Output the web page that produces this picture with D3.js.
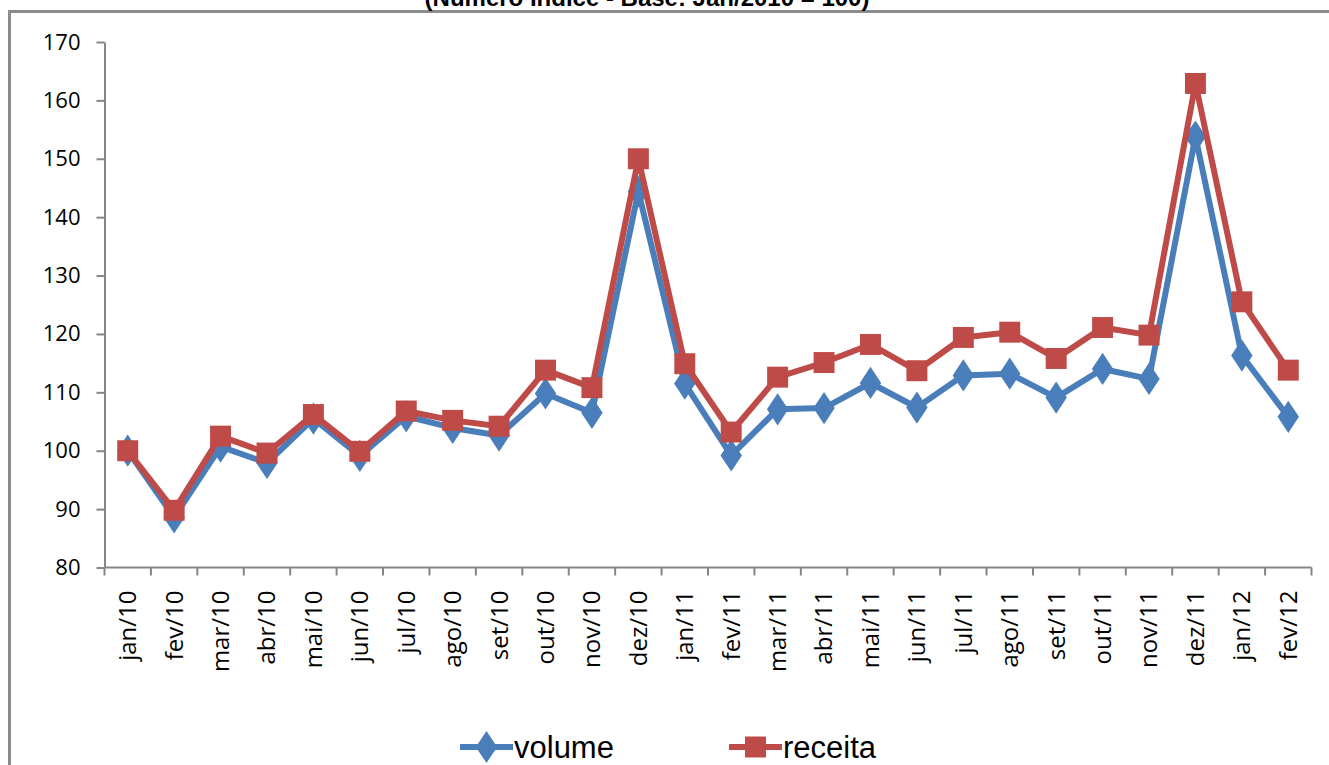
<!DOCTYPE html>
<html>
<head>
<meta charset="utf-8">
<script src="https://cdn.jsdelivr.net/npm/d3@7"></script>
<style>
  html, body { margin: 0; padding: 0; background: #fff; overflow: hidden; }
  svg { display: block; }
</style>
</head>
<body>
<div id="chart"></div>
<script>
const months = ["jan/10", "fev/10", "mar/10", "abr/10", "mai/10", "jun/10", "jul/10", "ago/10", "set/10", "out/10", "nov/10", "dez/10",
  "jan/11", "fev/11", "mar/11", "abr/11", "mai/11", "jun/11", "jul/11", "ago/11", "set/11", "out/11", "nov/11", "dez/11",
  "jan/12", "fev/12"]
const volume = [100, 88.6, 100.7, 97.9, 105.5, 99.1, 105.9, 103.9, 102.6, 109.8, 106.5, 144.4,
  111.5, 99.2, 107.1, 107.3, 111.6, 107.4, 112.9, 113.2, 109.1, 114.0, 112.3, 153.8, 116.3, 105.8]
const receita = [100, 89.8, 102.5, 99.6, 106.2, 99.9, 106.8, 105.2, 104.2, 113.8, 110.8, 150.0,
  114.9, 103.2, 112.6, 115.1, 118.2, 113.7, 119.4, 120.3, 115.8, 121.1, 119.8, 162.9, 125.5, 113.8]
const yTicks = [80, 90, 100, 110, 120, 130, 140, 150, 160, 170]
const title = "(Número Índice - Base: Jan/2010 = 100)"

const W = 1329, H = 765
const margin = { top: 42, left: 104.5, right: 17.5, bottom: 198 }

const svg = d3.select("#chart").append("svg")
  .attr("width", W)
  .attr("height", H)

// outer chart frame (only top and left edges fall inside the picture)
svg.append("rect")
  .attr("x", 9.5).attr("y", 11.5)
  .attr("width", W + 20).attr("height", H + 20)
  .attr("fill", "none")
  .attr("stroke", "#8c8c8c")
  .attr("stroke-width", 3)

svg.append("text")
  .attr("x", 647).attr("y", 6)
  .attr("text-anchor", "middle")
  .style("font-family", "'Liberation Sans', Arial, sans-serif")
  .style("font-weight", "bold")
  .style("font-size", "24px")
  .text(title)

const x = d3.scaleBand()
  .domain(months)
  .range([margin.left, W - margin.right])

const y = d3.scaleLinear()
  .domain([80, 170])
  .range([H - margin.bottom + 0.5, margin.top])

const axisColor = "#868686"
const labelFont = "'Open Sans', 'Noto Sans', sans-serif"

// y axis
const yAxis = svg.append("g")
  .attr("transform", `translate(${margin.left},0)`)
  .call(d3.axisLeft(y).tickValues(yTicks).tickSize(8).tickPadding(16).tickSizeOuter(0))
yAxis.select(".domain").attr("stroke", axisColor).attr("stroke-width", 2)
yAxis.selectAll(".tick line").attr("stroke", axisColor).attr("stroke-width", 2)
yAxis.selectAll(".tick text")
  .attr("fill", "#000")
  .style("font-family", labelFont)
  .style("font-size", "22px")

// x axis with ticks between categories
const xAxisY = y(80)
const xg = svg.append("g").attr("transform", `translate(0,${xAxisY})`)
xg.append("line")
  .attr("x1", margin.left).attr("x2", W - margin.right)
  .attr("stroke", axisColor).attr("stroke-width", 2)
const bounds = months.map(m => x(m)).concat([x(months[months.length - 1]) + x.bandwidth()])
xg.selectAll("line.tk")
  .data(bounds)
  .join("line")
  .attr("class", "tk")
  .attr("x1", d => d).attr("x2", d => d)
  .attr("y1", 0).attr("y2", 8)
  .attr("stroke", axisColor).attr("stroke-width", 2)
xg.selectAll("text")
  .data(months)
  .join("text")
  .attr("transform", d => `translate(${x(d) + x.bandwidth() / 2},23) rotate(-90)`)
  .attr("text-anchor", "end")
  .attr("dy", "0.35em")
  .style("font-family", labelFont)
  .style("font-size", "24px")
  .text(d => d)

const blue = "#4a7ebb", red = "#be4b48"
const series = [
  { name: "volume", values: volume, color: blue, marker: d3.symbolDiamond, size: 300 },
  { name: "receita", values: receita, color: red, marker: d3.symbolSquare, size: 440 }
]

const line = d3.line()
  .x((d, i) => x(months[i]) + x.bandwidth() / 2)
  .y(d => y(d))

series.forEach(s => {
  svg.append("path")
    .datum(s.values)
    .attr("fill", "none")
    .attr("stroke", s.color)
    .attr("stroke-width", 6)
    .attr("stroke-linejoin", "round")
    .attr("d", line)
  svg.append("g").selectAll("path")
    .data(s.values)
    .join("path")
    .attr("transform", (d, i) => `translate(${x(months[i]) + x.bandwidth() / 2},${y(d)})` + (s.marker === d3.symbolDiamond ? " scale(1.15,1)" : ""))
    .attr("d", d3.symbol(s.marker, s.size))
    .attr("fill", s.color)
})

// legend
const legendX = [460, 729]
const legendY = 747
series.forEach((s, i) => {
  const g = svg.append("g").attr("transform", `translate(${legendX[i]},${legendY})`)
  g.append("line")
    .attr("x1", 0).attr("x2", 53)
    .attr("stroke", s.color).attr("stroke-width", 6)
  g.append("path")
    .attr("transform", "translate(26.5,0)" + (s.marker === d3.symbolDiamond ? " scale(1.15,1)" : ""))
    .attr("d", d3.symbol(s.marker, s.size))
    .attr("fill", s.color)
  g.append("text")
    .attr("x", 54).attr("y", 0)
    .attr("dy", "0.36em")
    .style("font-family", "'Liberation Sans', Arial, sans-serif")
    .style("font-size", "31px")
    .text(s.name)
})
</script>
</body>
</html>
